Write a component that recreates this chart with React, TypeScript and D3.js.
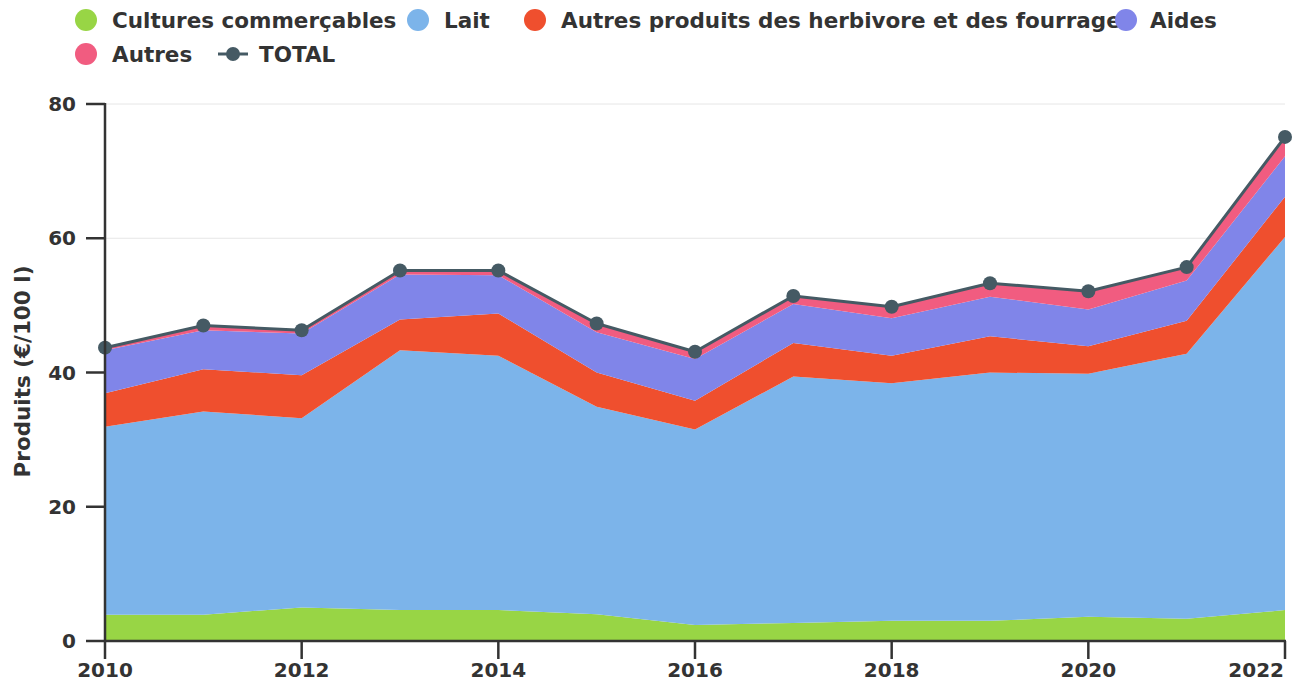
import * as d3 from 'd3';
import React from 'react';

const years = [2010, 2011, 2012, 2013, 2014, 2015, 2016, 2017, 2018, 2019, 2020, 2021, 2022];
const cultures = [3.9, 3.9, 5.0, 4.6, 4.6, 4.0, 2.4, 2.7, 3.0, 3.0, 3.6, 3.3, 4.6];
const lait = [28.0, 30.3, 28.2, 38.7, 37.9, 30.9, 29.1, 36.7, 35.4, 37.0, 36.2, 39.5, 55.6];
const herbivores = [5.0, 6.3, 6.4, 4.6, 6.3, 5.1, 4.3, 5.0, 4.1, 5.4, 4.1, 4.9, 6.0];
const aides = [6.4, 5.8, 6.2, 6.7, 5.7, 6.0, 6.2, 5.8, 5.6, 5.9, 5.5, 6.0, 6.0];
const autres = [0.4, 0.7, 0.5, 0.6, 0.7, 1.3, 1.1, 1.2, 1.7, 2.0, 2.7, 2.0, 2.9];
const total = [43.7, 47.0, 46.3, 55.2, 55.2, 47.3, 43.1, 51.4, 49.8, 53.3, 52.1, 55.7, 75.1];

const yTicks = [0, 20, 40, 60, 80];
const xTicks = [2010, 2012, 2014, 2016, 2018, 2020, 2022];

const seriesKeys = ['cultures', 'lait', 'herbivores', 'aides', 'autres'];
const seriesNames = [
   'Cultures commerçables',
   'Lait',
   'Autres produits des herbivore et des fourrages',
   'Aides',
   'Autres',
];
const colors = ['#98d545', '#7cb4ea', '#ef4f2e', '#8085e9', '#f15c80'];
const totalColor = '#455a64';

const width = 1297;
const height = 682;
const margin = { top: 104, right: 12, bottom: 41, left: 105 };

const App = () => {
   const innerWidth = width - margin.left - margin.right;
   const innerHeight = height - margin.top - margin.bottom;

   const x = d3.scaleLinear().domain([2010, 2022]).range([0, innerWidth]);
   const y = d3.scaleLinear().domain([0, 80]).range([innerHeight, 0]);

   const rows = years.map((yr, i) => ({
      year: yr,
      cultures: cultures[i],
      lait: lait[i],
      herbivores: herbivores[i],
      aides: aides[i],
      autres: autres[i],
   }));
   const stacked = d3.stack<any>().keys(seriesKeys)(rows);

   const area = d3
      .area<any>()
      .x((d) => x(d.data.year))
      .y0((d) => y(d[0]))
      .y1((d) => y(d[1]));

   const line = d3
      .line<number>()
      .x((_, i) => x(years[i]))
      .y((v) => y(v));

   const font = "'DejaVu Sans', sans-serif";

   // legend placement (first row + second row)
   const legend = [
      { name: seriesNames[0], color: colors[0], lx: 86, ly: 20 },
      { name: seriesNames[1], color: colors[1], lx: 418, ly: 20 },
      { name: seriesNames[2], color: colors[2], lx: 535, ly: 20 },
      { name: seriesNames[4], color: colors[4], lx: 86, ly: 54 },
   ];

   return (
      <svg width={width} height={height} style={{ position: 'absolute', left: 0, top: 0, fontFamily: font }}>
         {/* legend */}
         <g fontSize={21.5} fontWeight="bold" fill="#333">
            {legend.map((l) => (
               <g key={l.name}>
                  <ellipse cx={l.lx} cy={l.ly} rx={11} ry={11} fill={l.color} />
                  <text x={l.lx + 26} y={l.ly} dy="0.35em">
                     {l.name}
                  </text>
               </g>
            ))}
            <g>
               <line x1={218} x2={248} y1={54} y2={54} stroke={totalColor} strokeWidth={3} />
               <circle cx={233} cy={54} r={7} fill={totalColor} />
               <text x={259} y={54} dy="0.35em">
                  TOTAL
               </text>
            </g>
            <g>
               <text x={1150} y={20} dy="0.35em">
                  Aides
               </text>
               <ellipse cx={1126} cy={20} rx={11} ry={11} fill={colors[3]} />
            </g>
         </g>

         <g transform={`translate(${margin.left},${margin.top})`}>
            {/* grid */}
            {yTicks.map((t) => (
               <line key={t} x1={0} x2={innerWidth} y1={y(t)} y2={y(t)} stroke="#e6e6e6" strokeWidth={1} />
            ))}

            {/* areas */}
            {stacked.map((s, i) => (
               <path key={s.key} d={area(s) ?? ''} fill={colors[i]} />
            ))}

            {/* total line */}
            <path d={line(total) ?? ''} fill="none" stroke={totalColor} strokeWidth={3} strokeLinejoin="round" />
            {total.map((v, i) => (
               <circle key={i} cx={x(years[i])} cy={y(v)} r={7} fill={totalColor} />
            ))}

            {/* y axis */}
            <line x1={0} x2={0} y1={-1} y2={innerHeight} stroke="#333" strokeWidth={2.5} />
            {yTicks.map((t) => (
               <g key={t}>
                  <line x1={-19} x2={0} y1={y(t)} y2={y(t)} stroke="#333" strokeWidth={2.5} />
                  <text
                     x={-29}
                     y={y(t)}
                     dy="0.35em"
                     textAnchor="end"
                     fontSize={20}
                     fontWeight="bold"
                     fill="#333"
                  >
                     {t}
                  </text>
               </g>
            ))}

            {/* x axis */}
            <line x1={-1} x2={innerWidth + 1} y1={innerHeight} y2={innerHeight} stroke="#333" strokeWidth={2.5} />
            {xTicks.map((t, i) => (
               <g key={t}>
                  <line x1={x(t)} x2={x(t)} y1={innerHeight} y2={innerHeight + 18} stroke="#333" strokeWidth={2.5} />
                  <text
                     x={i === xTicks.length - 1 ? x(t) - 1 : x(t)}
                     y={innerHeight + 29}
                     dy="0.35em"
                     textAnchor={i === xTicks.length - 1 ? 'end' : 'middle'}
                     fontSize={20}
                     fontWeight="bold"
                     fill="#333"
                  >
                     {t}
                  </text>
               </g>
            ))}

            {/* y axis title */}
            <text
               transform={`translate(${-83},${y(40) - 1}) rotate(-90)`}
               dy="0.35em"
               textAnchor="middle"
               fontSize={21.5}
               fontWeight="bold"
               fill="#333"
            >
               Produits (€/100 l)
            </text>
         </g>
      </svg>
   );
};

export default App;
